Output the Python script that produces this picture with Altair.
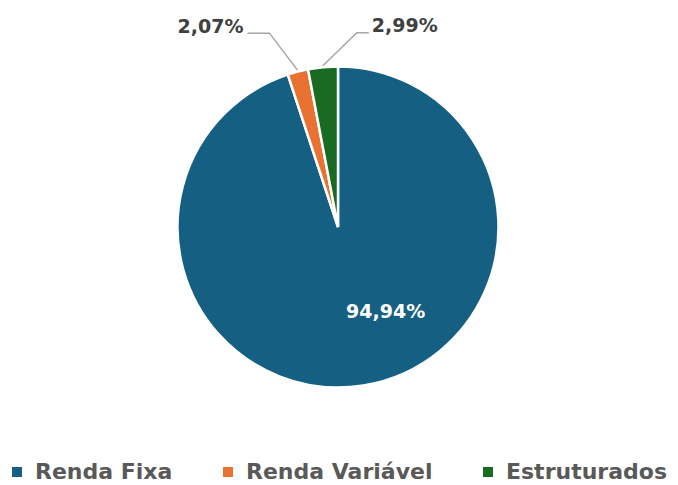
import math
import altair as alt
import pandas as pd

# ---- data ----
categories = ["Renda Fixa", "Renda Variável", "Estruturados"]
values = [94.94, 2.07, 2.99]
value_labels = ["94,94%", "2,07%", "2,99%"]
colors = ["#156082", "#E97132", "#196B24"]

# ---- layout / style ----
CX, CY, R = 338, 227, 160.5
FONT = "DejaVu Sans"
LEADER_R = R + 1.5
# leader layout: elbow offset from slice point, horizontal run, label gap, label dy
leader_layout = {
    "Renda Variável": {"elbow": (-28, -37), "run": -22, "gap": -4, "dy": -6, "align": "right"},
    "Estruturados": {"elbow": (34, -33), "run": 12, "gap": 3, "dy": -7, "align": "left"},
}

df = pd.DataFrame({
    "cat": categories,
    "val": values,
    "ord": list(range(len(categories))),
    "inner": [value_labels[0], "", ""],
})

total = sum(values)
cum = 0.0
line_rows, text_rows = [], []
for c, v, lab in zip(categories, values, value_labels):
    mid = (cum + v / 2) / total * 2 * math.pi
    cum += v
    if c not in leader_layout:
        continue
    L = leader_layout[c]
    sx = CX + LEADER_R * math.sin(mid)
    sy = CY - LEADER_R * math.cos(mid)
    ex, ey = sx + L["elbow"][0], sy + L["elbow"][1]
    fx, fy = ex + L["run"], ey
    for i, (px, py) in enumerate([(sx, sy), (ex, ey), (fx, fy)]):
        line_rows.append({"cat": c, "i": i, "px": px, "py": py})
    text_rows.append({"cat": c, "lab": lab, "px": fx + L["gap"], "py": fy + L["dy"], "align": L["align"]})

lines_df = pd.DataFrame(line_rows)
text_df = pd.DataFrame(text_rows)

base = alt.Chart(df)

arc = base.mark_arc(outerRadius=R, stroke="white", strokeWidth=2.5).encode(
    theta=alt.Theta("val:Q", stack=True),
    color=alt.Color(
        "cat:N",
        scale=alt.Scale(domain=categories, range=colors),
        legend=alt.Legend(
            orient="none", legendX=6, legendY=461, direction="horizontal", title=None,
            symbolType="square", symbolSize=100, symbolStrokeWidth=0,
            labelFont=FONT, labelFontSize=22, labelFontWeight="bold", labelColor="#595959",
            labelOffset=7, columnPadding=44, labelLimit=400, padding=0,
        ),
    ),
    order=alt.Order("ord:Q"),
    x=alt.value(CX),
    y=alt.value(CY),
)

inner = base.mark_text(radius=86, dx=34, font=FONT, fontSize=19, fontWeight="bold", color="white").encode(
    theta=alt.Theta("val:Q", stack=True),
    order=alt.Order("ord:Q"),
    text="inner:N",
    x=alt.value(CX),
    y=alt.value(CY),
)

leaders = alt.Chart(lines_df).mark_line(color="#A6A6A6", strokeWidth=1.5).encode(
    x=alt.X("px:Q", scale=None),
    y=alt.Y("py:Q", scale=None),
    detail="cat:N",
    order="i:Q",
)

left_lab = alt.Chart(text_df[text_df["align"] == "right"]).mark_text(
    align="right", baseline="middle", font=FONT, fontSize=19, fontWeight="bold", color="#404040"
).encode(x=alt.X("px:Q", scale=None), y=alt.Y("py:Q", scale=None), text="lab:N")

right_lab = alt.Chart(text_df[text_df["align"] == "left"]).mark_text(
    align="left", baseline="middle", font=FONT, fontSize=19, fontWeight="bold", color="#404040"
).encode(x=alt.X("px:Q", scale=None), y=alt.Y("py:Q", scale=None), text="lab:N")

chart = alt.layer(arc, inner, leaders, left_lab, right_lab).properties(
    width=678, height=485, padding=0,
    autosize=alt.AutoSizeParams(type="none"),
).configure_view(stroke=None)

chart.save("out.html", embed_options={"renderer": "svg", "actions": False})
